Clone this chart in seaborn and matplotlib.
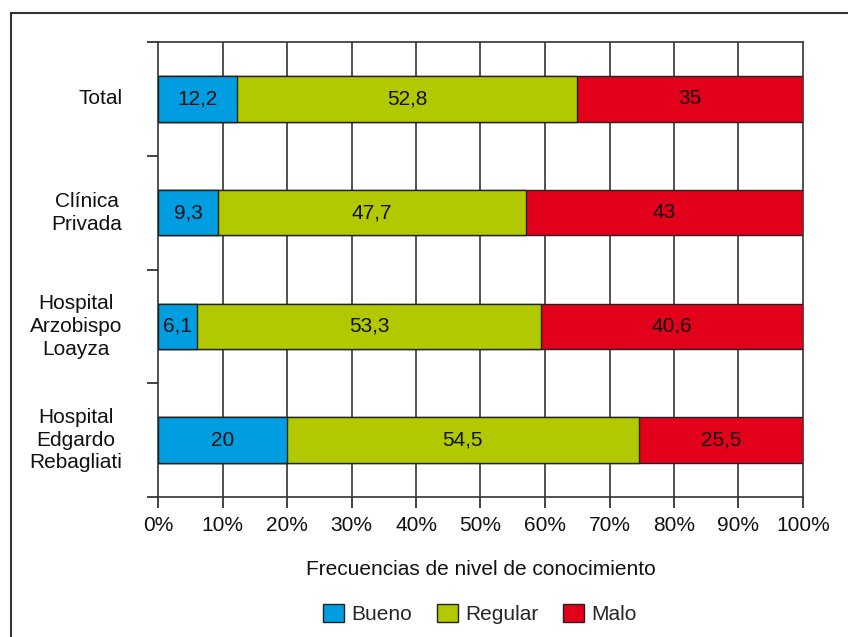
import numpy as np
import pandas as pd
import matplotlib.pyplot as plt
import matplotlib.patches as mpatches
import seaborn as sns

# Chart data
categories = ["Total", "Clínica\nPrivada", "Hospital\nArzobispo\nLoayza",
              "Hospital\nEdgardo\nRebagliati"]
bueno = [12.2, 9.3, 6.1, 20]
regular = [52.8, 47.7, 53.3, 54.5]
malo = [35, 43, 40.6, 25.5]
bueno_labels = ["12,2", "9,3", "6,1", "20"]
regular_labels = ["52,8", "47,7", "53,3", "54,5"]
malo_labels = ["35", "43", "40,6", "25,5"]
series_names = ["Bueno", "Regular", "Malo"]
colors = ["#009EE0", "#B2C800", "#E2001A"]


def main():
    sns.set_style("white")
    plt.rcParams["font.family"] = ["Liberation Sans", "DejaVu Sans"]
    fs = 15

    df = pd.DataFrame({"cat": categories, "Bueno": bueno,
                       "Regular": regular, "Malo": malo})
    df["c1"] = df["Bueno"]
    df["c2"] = df["Bueno"] + df["Regular"]
    df["c3"] = df["c2"] + df["Malo"]

    fig = plt.figure(figsize=(8.48, 6.37), dpi=100)
    ax = fig.add_axes([158 / 848, 1 - 497 / 637, 645 / 848, 455 / 637])

    # Stack by drawing cumulative totals from the largest down
    for col, color in zip(["c3", "c2", "c1"], colors[::-1]):
        sns.barplot(data=df, x=col, y="cat", color=color, orient="h",
                    width=0.4, edgecolor="#222222", linewidth=1.0,
                    saturation=1, ax=ax, zorder=3)

    # Segment labels
    for i in range(len(categories)):
        lefts = [0, bueno[i], bueno[i] + regular[i]]
        widths = [bueno[i], regular[i], malo[i]]
        labels = [bueno_labels[i], regular_labels[i], malo_labels[i]]
        for left, w, lab in zip(lefts, widths, labels):
            ax.text(left + w / 2, i, lab, ha="center", va="center",
                    fontsize=fs, color="#111111", zorder=5)

    ax.set_xlim(0, 100)
    ax.set_ylim(3.5, -0.5)
    ax.set_xticks(np.arange(0, 101, 10))
    ax.set_xticklabels([f"{v}%" for v in range(0, 101, 10)])
    ax.set_yticks(np.arange(-0.5, 4.0, 1.0))
    ax.set_yticklabels([])
    ax.tick_params(axis="both", direction="out", length=8, width=1.2,
                   color="#222222", labelsize=fs, labelcolor="#111111",
                   pad=6, bottom=True, left=True)
    for x in range(10, 100, 10):
        ax.axvline(x, color="#333333", linewidth=1.2, zorder=1)
    for s in ax.spines.values():
        s.set_color("#333333")
        s.set_linewidth(1.2)

    for i, cat in enumerate(categories):
        ax.text(-0.055, i, cat, transform=ax.get_yaxis_transform(),
                ha="right", va="center", multialignment="center",
                fontsize=fs, color="#111111", linespacing=1.25)

    ax.set_xlabel("Frecuencias de nivel de conocimiento", fontsize=fs,
                  color="#111111", labelpad=18)
    ax.set_ylabel("")

    handles = [mpatches.Patch(facecolor=c, edgecolor="#222222", label=n)
               for n, c in zip(series_names, colors)]
    fig.legend(handles=handles, loc="center", bbox_to_anchor=(0.566, 0.036),
               ncol=3, frameon=False, fontsize=fs, handlelength=1.0,
               handleheight=1.0, handletextpad=0.35, columnspacing=1.2)

    # Outer frame
    fig.add_artist(mpatches.Rectangle((11 / 848, -0.1), 1.0, 1 - 13 / 637 + 0.1,
                                      transform=fig.transFigure, fill=False,
                                      edgecolor="#333333", linewidth=1.5))

    fig.savefig("out.png", dpi=100)
    plt.close(fig)


if __name__ == "__main__":
    main()
